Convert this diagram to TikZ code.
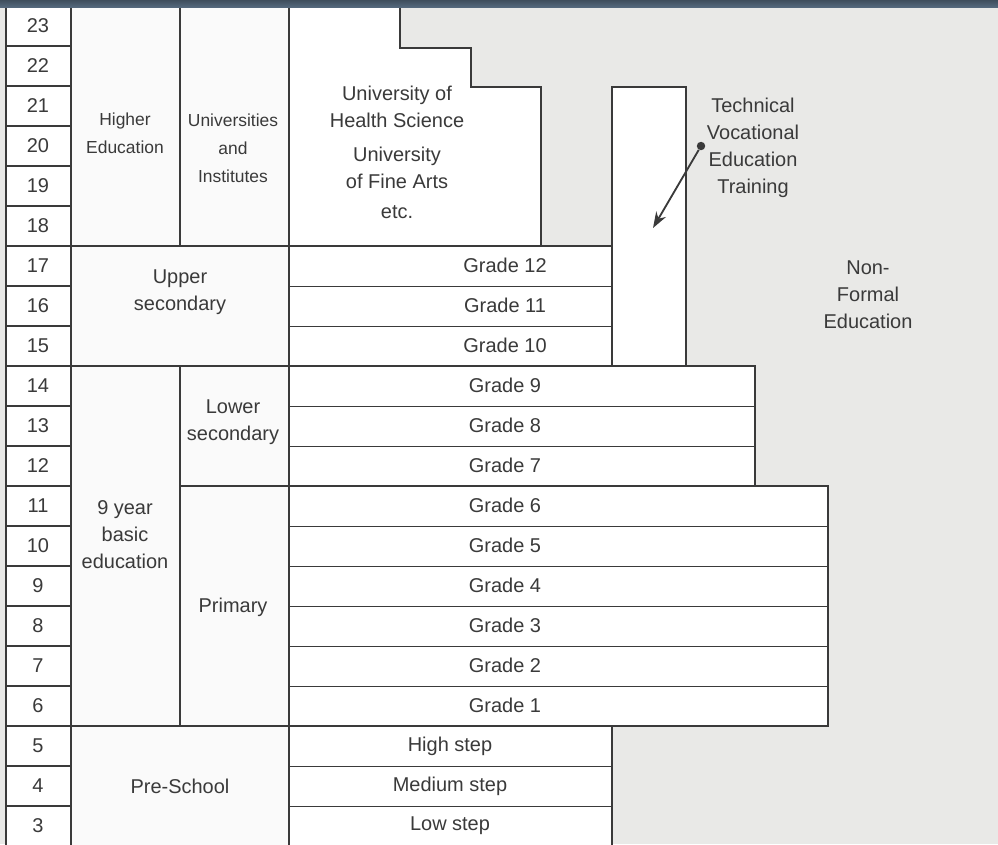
\documentclass[tikz,border=0pt]{standalone}
\usepackage{fontspec}
\setmainfont{Liberation Sans}
\usetikzlibrary{arrows.meta}

\definecolor{paper}{RGB}{233,233,231}
\definecolor{ink}{RGB}{58,58,58}
\definecolor{band}{RGB}{84,104,124}

\begin{document}
\begin{tikzpicture}[
    x=0.025cm, y=-0.025cm,
    font=\fontsize{14.2}{19.2}\selectfont,
    cell/.style={draw=ink, line width=0.6pt, fill=white},
    block/.style={draw=ink, line width=1.2pt},
    catbox/.style={block, fill=gray!4},
    label_text/.style={text=ink, align=center, inner sep=0pt},
    small_text/.style={label_text, font=\fontsize{12.4}{19.8}\selectfont},
    arrow/.style={-{Stealth[length=4mm, width=2.8mm]}, draw=ink, line width=1.3pt}
]

\useasboundingbox (0,0) rectangle (998,844);
\clip (0,0) rectangle (998,844);
\fill[paper] (0,0) rectangle (998,844);

% --- Columna de edades ---
\foreach \n in {3,...,23} {
  \pgfmathsetmacro{\rowtop}{6+(23-\n)*40}
  \draw[cell, line width=1pt] (6,\rowtop) rectangle (71,\rowtop+40);
  \node[label_text] (age\n) at (38,\rowtop+20) {\n};
}

% --- Bloques de categorias ---
\draw[catbox] (71,6) rectangle (180,246);
\node[small_text] (higher) at (125,133) {Higher\\Education};
\draw[catbox] (180,6) rectangle (289,246);
\node[small_text] (univ) at (233,148) {Universities\\and\\Institutes};
\draw[catbox] (71,246) rectangle (289,366);
\node[label_text] (upper) at (180,292) {Upper\\secondary};
\draw[catbox] (71,366) rectangle (180,726);
\node[label_text] (basic) at (125,535) {9 year\\basic\\education};
\draw[catbox] (180,366) rectangle (289,486);
\node[label_text] (lower) at (233,422) {Lower\\secondary};
\draw[catbox] (180,486) rectangle (289,726);
\node[label_text] (primary) at (233,607) {Primary};
\draw[catbox] (71,726) rectangle (289,846);
\node[label_text] (preschool) at (180,786) {Pre-School};

% --- Universidades (escalonado) ---
\draw[block, fill=white] (289,6) -- (400,6) -- (400,48) -- (471,48) -- (471,87)
  -- (541,87) -- (541,246) -- (289,246) -- cycle;
\node[label_text] (health) at (397,107) {University of\\Health Science};
\node[label_text] (fine) at (397,168) {University\\of Fine Arts};
\node[label_text] (etc) at (397,212) {etc.};

% --- Grados ---
\foreach \g in {1,...,12} {
  \pgfmathsetmacro{\rowtop}{6+(18-\g)*40}
  \pgfmathsetmacro{\rowright}{\g<7 ? 828 : (\g<10 ? 755 : 612)}
  \draw[cell] (289,\rowtop) rectangle (\rowright,\rowtop+40);
  \node[label_text] (grade\g) at (505,\rowtop+19) {Grade \g};
}
\draw[block] (289,246) rectangle (612,366);
\draw[block] (289,366) rectangle (755,486);
\draw[block] (289,486) rectangle (828,726);

% --- Preescolar ---
\foreach \n/\txt in {5/High step, 4/Medium step, 3/Low step} {
  \pgfmathsetmacro{\rowtop}{6+(23-\n)*40}
  \draw[cell] (289,\rowtop) rectangle (612,\rowtop+40);
  \node[label_text] (step\n) at (450,\rowtop+20) {\txt};
}
\draw[block] (289,726) rectangle (612,846);

% --- Tecnica vocacional ---
\draw[block, fill=white] (612,87) rectangle (686,366);
\node[label_text] (tvet) at (753,148) {Technical\\Vocational\\Education\\Training};
\node[circle, fill=ink, inner sep=0pt, minimum size=6pt] (tvetdot) at (701,146) {};
\coordinate (tvettip) at (653,228);
\draw[arrow] (tvetdot) -- (tvettip);

% --- No formal ---
\node[label_text] (nonformal) at (868,295) {Non-\\Formal\\Education};

% --- Banda superior ---
\shade[top color=band!75!black, bottom color=band] (0,0) rectangle (998,7);

\end{tikzpicture}
\end{document}
